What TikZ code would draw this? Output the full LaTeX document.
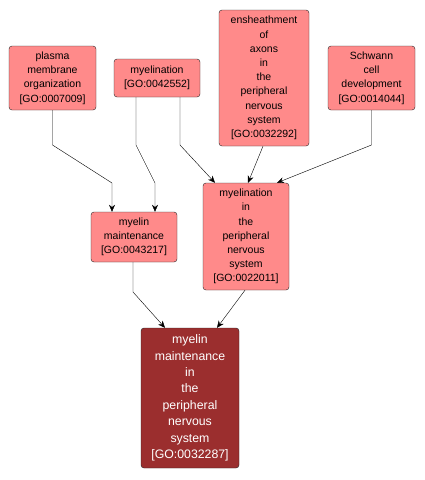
\documentclass[tikz,border=0pt]{standalone}
\usepackage{fontspec}
\setmainfont{Liberation Sans}
\usetikzlibrary{arrows.meta}
\definecolor{goterm}{RGB}{255,138,138}
\definecolor{gotarget}{RGB}{155,46,46}

\begin{document}
\begin{tikzpicture}[x=1pt,y=-1pt,
  term/.style={draw=black!85,fill=goterm,rounded corners=3pt,align=center,inner sep=0pt,
    font=\fontsize{10.5}{14.2}\selectfont,minimum width=86pt},
  target/.style={term,fill=gotarget,text=white,font=\fontsize{12.3}{16.4}\selectfont,minimum width=98pt},
  edge/.style={-{Stealth[length=7pt,width=6pt]},black}]
\useasboundingbox (0,0) rectangle (425,480);
\node[term,minimum width=87pt,minimum height=64pt] (plasma) at (52.5,78) {plasma\\membrane\\organization\\{[}GO:0007009{]}};
\node[term,minimum height=38pt] (myel) at (157,78) {myelination\\{[}GO:0042552{]}};
\node[term,minimum width=90pt,minimum height=136pt] (ensh) at (264,78) {ensheathment\\of\\axons\\in\\the\\peripheral\\nervous\\system\\{[}GO:0032292{]}};
\node[term,minimum width=87pt,minimum height=64pt] (schw) at (371.5,78) {Schwann\\cell\\development\\{[}GO:0014044{]}};
\node[term,minimum height=50pt] (mm) at (134,237) {myelin\\maintenance\\{[}GO:0043217{]}};
\node[term,minimum height=107pt] (mpns) at (246,236.5) {myelination\\in\\the\\peripheral\\nervous\\system\\{[}GO:0022011{]}};
\node[target,minimum height=140pt] (mmpns) at (190,398) {myelin\\maintenance\\in\\the\\peripheral\\nervous\\system\\{[}GO:0032287{]}};
% is_a links
\draw[edge] (plasma.south) -- (52.5,145) -- (112,183) -- ([xshift=-22pt]mm.north);
\draw[edge] ([xshift=-21pt]myel.south) -- (136,145) -- (155,183) -- ([xshift=21pt]mm.north);
\draw[edge] ([xshift=23pt]myel.south) -- (180,145) -- ([xshift=-31pt]mpns.north);
\draw[edge] ([xshift=-1pt]ensh.south) -- ([xshift=2pt]mpns.north);
\draw[edge] (schw.south) -- (371.5,145) -- ([xshift=31pt]mpns.north);
\draw[edge] ([xshift=-1pt]mm.south) -- (133,292) -- ([xshift=-25pt]mmpns.north);
\draw[edge] ([xshift=-1pt]mpns.south) -- ([xshift=27pt]mmpns.north);
\end{tikzpicture}
\end{document}
